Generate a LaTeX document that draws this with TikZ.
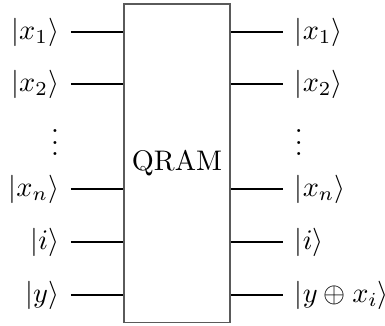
\documentclass[tikz,border=0pt]{standalone}
\usepackage{tikz}
\definecolor{boxgray}{HTML}{5A5A5A}

\begin{document}
\begin{tikzpicture}[x=0.353pt, y=-0.353pt,
    gatebox/.style={draw=boxgray, minimum width=37.4pt, minimum height=112.3pt, inner sep=0pt},
    inlabel/.style={anchor=east, inner sep=4pt},
    outlabel/.style={anchor=west, inner sep=4pt}]
    \useasboundingbox (0,0) rectangle (385,325);
    % the gate
    \node[gatebox] (qram) at (177,163) {QRAM};
    % inputs
    \node[inlabel] (inxa) at (71,32)  {$|x_1\rangle$};
    \node[inlabel] (inxb) at (71,84)  {$|x_2\rangle$};
    \node[inlabel] (indots) at (71,134) {$\vdots$};
    \node[inlabel] (inxn) at (71,189) {$|x_n\rangle$};
    \node[inlabel] (ini)  at (71,242) {$|i\rangle$};
    \node[inlabel] (iny)  at (71,295) {$|y\rangle$};
    % outputs
    \node[outlabel] (outxa) at (283,32)  {$|x_1\rangle$};
    \node[outlabel] (outxb) at (283,84)  {$|x_2\rangle$};
    \node[outlabel] (outdots) at (283,134) {$\vdots$};
    \node[outlabel] (outxn) at (283,189) {$|x_n\rangle$};
    \node[outlabel] (outi)  at (283,242) {$|i\rangle$};
    \node[outlabel] (outy)  at (283,295) {$|y \oplus x_i\rangle$};
    % wires
    \foreach \w in {xa,xb,xn,i,y}{
      \draw (in\w.east) -- (in\w.east -| qram.west);
      \draw (out\w.west) -- (out\w.west -| qram.east);
    }
\end{tikzpicture}
\end{document}
